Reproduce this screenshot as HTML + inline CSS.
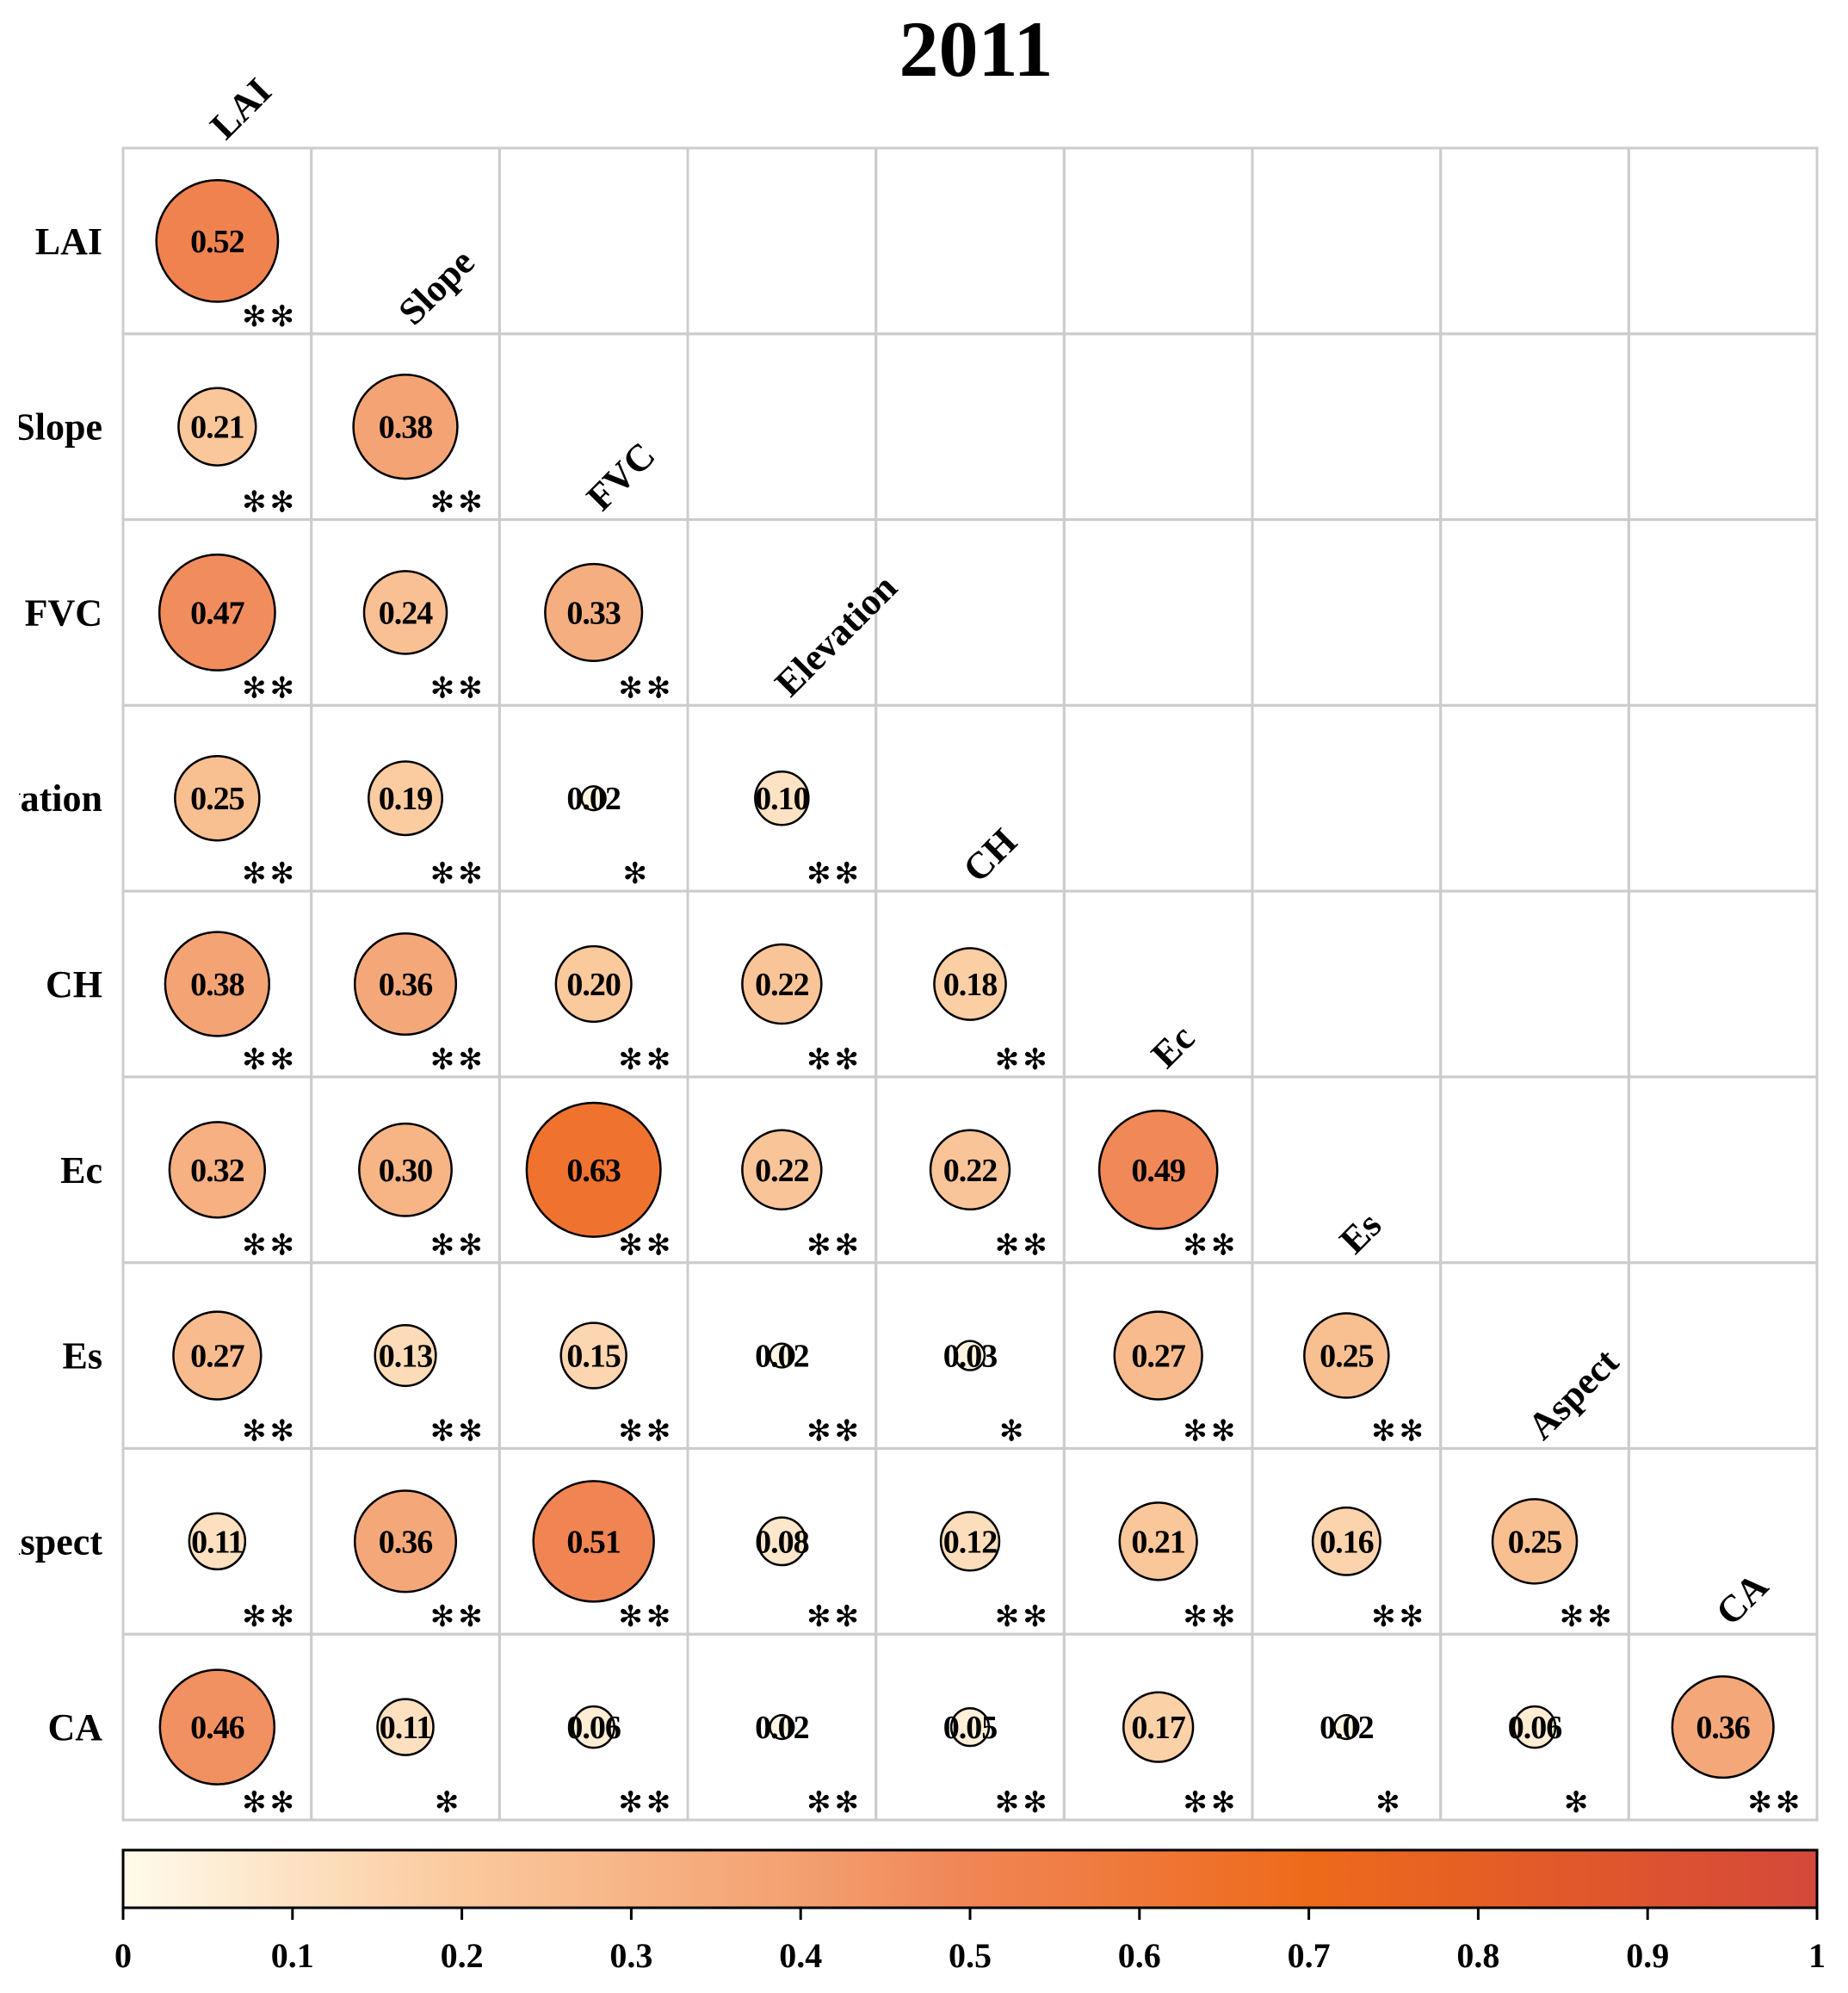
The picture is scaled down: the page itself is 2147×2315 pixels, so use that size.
<!DOCTYPE html>
<html><head><meta charset="utf-8"><style>
html,body{margin:0;padding:0;background:#fff;}
svg{display:block;}
text{font-family:"Liberation Serif",serif;font-weight:bold;}
.star{font-family:"DejaVu Sans",sans-serif;font-weight:bold;}
</style></head><body>
<svg id="chart" width="2147" height="2315" viewBox="0 0 2147 2315" xmlns="http://www.w3.org/2000/svg">
<defs>
<clipPath id="lblclip"><rect x="22" y="0" width="2125" height="2315"/></clipPath>
<linearGradient id="cbgrad" x1="0" x2="1" y1="0" y2="0">
<stop offset="0" stop-color="#FFFBEB"/><stop offset="0.2" stop-color="#FAC99C"/><stop offset="0.4" stop-color="#F3A070"/><stop offset="0.5" stop-color="#F08555"/><stop offset="0.7" stop-color="#EE6A1A"/><stop offset="1" stop-color="#D4483A"/>
</linearGradient>
</defs>
<text x="1134" y="88" font-size="92" text-anchor="middle">2011</text>
<g id="grid"></g><g id="marks"></g><g id="labels" clip-path="url(#lblclip)"></g><g id="cbar"></g>
</svg>
<script>
const variables = ["LAI","Slope","FVC","Elevation","CH","Ec","Es","Aspect","CA"];
const corrValues = [
 [0.52],
 [0.21,0.38],
 [0.47,0.24,0.33],
 [0.25,0.19,0.02,0.10],
 [0.38,0.36,0.20,0.22,0.18],
 [0.32,0.30,0.63,0.22,0.22,0.49],
 [0.27,0.13,0.15,0.02,0.03,0.27,0.25],
 [0.11,0.36,0.51,0.08,0.12,0.21,0.16,0.25],
 [0.46,0.11,0.06,0.02,0.05,0.17,0.02,0.06,0.36]
];
const significance = [
 ["**"],
 ["**","**"],
 ["**","**","**"],
 ["**","**","*","**"],
 ["**","**","**","**","**"],
 ["**","**","**","**","**","**"],
 ["**","**","**","**","*","**","**"],
 ["**","**","**","**","**","**","**","**"],
 ["**","*","**","**","**","**","*","*","**"]
];
const cbTicks = [0,0.1,0.2,0.3,0.4,0.5,0.6,0.7,0.8,0.9,1];
const cbTickLabels = ["0","0.1","0.2","0.3","0.4","0.5","0.6","0.7","0.8","0.9","1"];

const NS="http://www.w3.org/2000/svg";
const GL=143, GR=2111, GT=172, GB=2114, N=9;
const cw=(GR-GL)/N, ch=(GB-GT)/N;
const xc=j=>GL+cw*(j+0.5), yc=i=>GT+ch*(i+0.5);
const rScale=v=>98*Math.sqrt(Math.abs(v));
const stops=[[0,[255,251,235]],[0.2,[250,201,156]],[0.4,[243,160,112]],[0.5,[240,133,85]],[0.7,[238,106,26]],[1,[212,72,58]]];
function color(v){v=Math.max(0,Math.min(1,Math.abs(v)));for(let k=1;k<stops.length;k++){if(v<=stops[k][0]){const a=stops[k-1],b=stops[k];const t=(v-a[0])/(b[0]-a[0]);const c=a[1].map((x,i)=>Math.round(x+(b[1][i]-x)*t));return `rgb(${c.join(',')})`;}}return 'rgb(212,72,58)';}
function mk(tag,attrs,parent,txt){const e=document.createElementNS(NS,tag);for(const k in attrs)e.setAttribute(k,attrs[k]);if(txt!==undefined)e.textContent=txt;parent.appendChild(e);return e;}

const grid=document.getElementById('grid');
for(let i=0;i<N;i++)for(let j=0;j<N;j++){
 const r=mk('rect',{x:GL+cw*j,y:GT+ch*i,width:cw,height:ch,fill:'none',stroke:'#cccccc','stroke-width':3},grid);
 
 
}
const marks=document.getElementById('marks');
corrValues.forEach((row,i)=>row.forEach((v,j)=>{
 const c=mk('circle',{cx:xc(j),cy:yc(i),r:rScale(v),fill:color(v),stroke:'#000','stroke-width':2.5},marks);
 
 
 const t=mk('text',{x:xc(j),y:yc(i)+13,'font-size':38,'letter-spacing':-1,'text-anchor':'middle'},marks,v.toFixed(2));
 
 
 const s=significance[i][j];
 const two=s.length===2;
 const sx=GL+cw*j+cw*(two?0.78:0.72);
 const st=mk('text',{class:'star',x:sx,y:GT+ch*(i+1)-9,'font-size':34,'text-anchor':'middle','letter-spacing':two?4:0},marks,two?'✻✻':'✻');
 
 
}));
const labels=document.getElementById('labels');
variables.forEach((name,i)=>{
 const t=mk('text',{x:119,y:yc(i)+15,'font-size':44,'text-anchor':'end'},labels,name);
 
 
 const ax=xc(i)+10, ay=GT+ch*i-8;
 const c=mk('text',{x:ax,y:ay,'font-size':44,transform:`rotate(-45 ${ax} ${ay})`},labels,name);
 
 
});
const cb=document.getElementById('cbar');
const CBT=2149, CBB=2216;
const cx=v=>GL+(GR-GL)*v;
const bar=mk('rect',{x:GL,y:CBT,width:GR-GL,height:CBB-CBT,fill:'url(#cbgrad)',stroke:'#000','stroke-width':3},cb);


cbTicks.forEach((v,k)=>{
 const l=mk('line',{x1:cx(v),x2:cx(v),y1:CBB,y2:CBB+14,stroke:'#000','stroke-width':3},cb);
 
 
 const t=mk('text',{x:cx(v),y:2285,'font-size':40,'text-anchor':'middle'},cb,cbTickLabels[k]);
 
 
});
</script>
</body></html>
